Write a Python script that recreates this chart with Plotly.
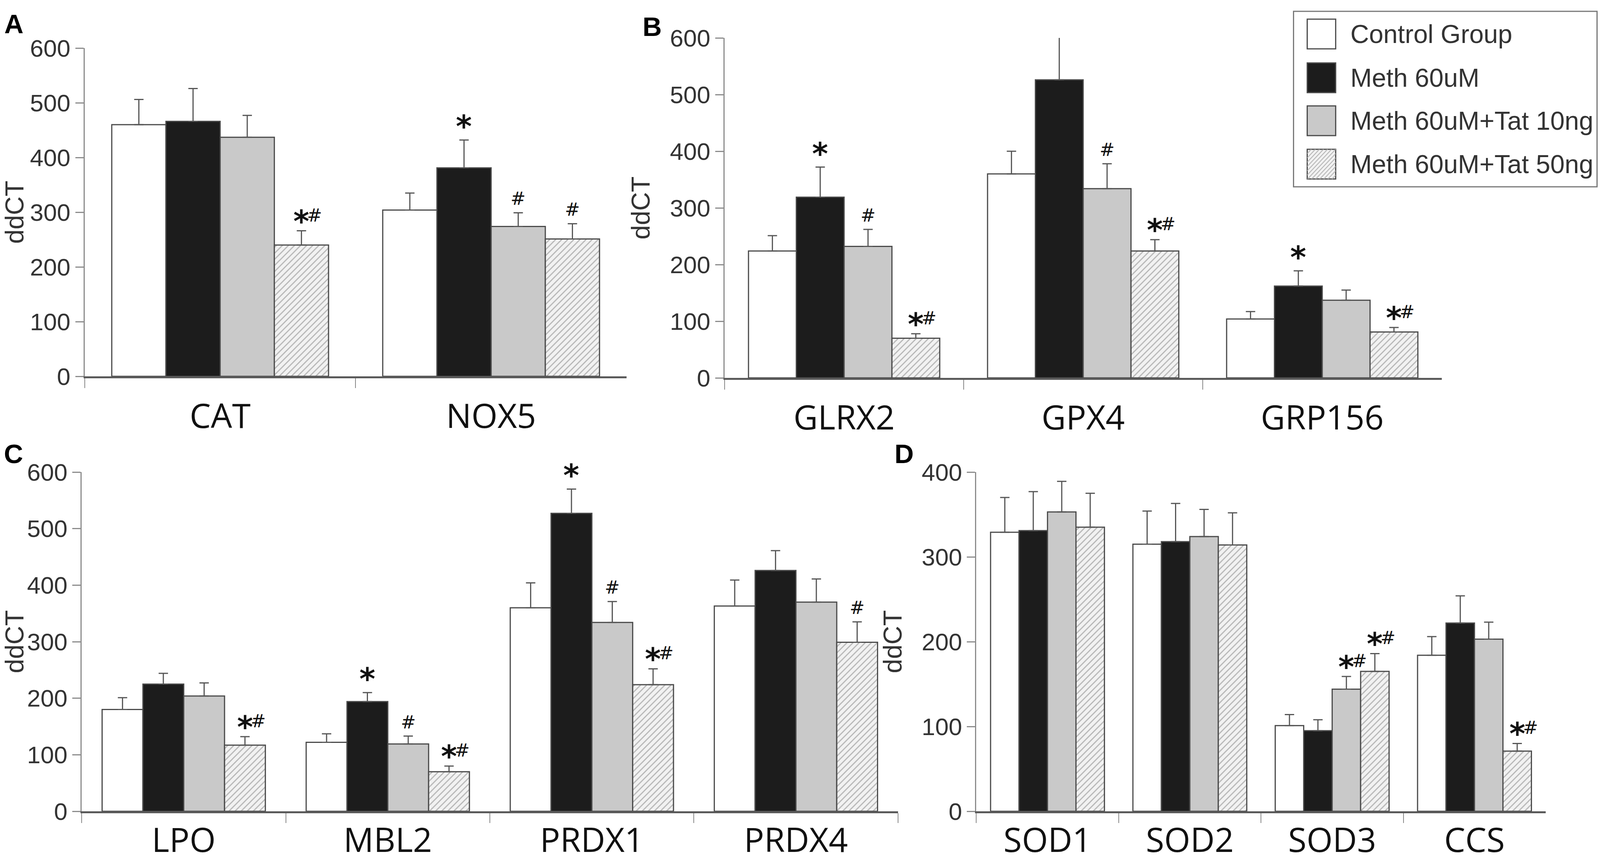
import plotly.graph_objects as go

W, H = 4328, 2216

GROUPS = ["Control Group", "Meth 60uM", "Meth 60uM+Tat 10ng", "Meth 60uM+Tat 50ng"]

# panel A
genes_a = ["CAT", "NOX5"]
means_a = [[460, 466, 437, 240], [304, 381, 274, 251]]
errs_a = [[46, 60, 40, 26], [31, 51, 25, 28]]
marks_a = [["", "", "", "*#"], ["", "*", "#", "#"]]

# panel B
genes_b = ["GLRX2", "GPX4", "GRP156"]
means_b = [[224, 319, 232, 70], [360, 526, 334, 224], [104, 162, 137, 81]]
errs_b = [[27, 53, 30, 8], [40, 84, 44, 20], [13, 27, 18, 8]]
marks_b = [["", "*", "#", "*#"], ["", "*", "#", "*#"], ["", "*", "", "*#"]]

# panel C
genes_c = ["LPO", "MBL2", "PRDX1", "PRDX4"]
means_c = [[180, 225, 204, 117], [122, 194, 119, 70], [360, 527, 334, 224], [363, 426, 370, 299]]
errs_c = [[21, 19, 23, 15], [15, 16, 14, 10], [44, 43, 37, 28], [46, 35, 41, 36]]
marks_c = [["", "", "", "*#"], ["", "*", "#", "*#"], ["", "*", "#", "*#"], ["", "", "", "#"]]

# panel D
genes_d = ["SOD1", "SOD2", "SOD3", "CCS"]
means_d = [[329, 331, 353, 335], [315, 318, 324, 314], [101, 95, 144, 165], [184, 222, 203, 71]]
errs_d = [[41, 46, 36, 40], [39, 45, 32, 38], [13, 13, 15, 21], [22, 32, 20, 9]]
marks_d = [["", "", "", ""], ["", "", "", ""], ["", "", "*#", "*#"], ["", "", "", "*#"]]

y_max = {"A": 600, "B": 600, "C": 600, "D": 400}

# pixel boxes of each plot area: x left, x right, y top, y bottom
BOX = {
    "A": (229, 1695, 123, 963),
    "B": (1960, 3900, 97, 967),
    "C": (221, 2429, 1208, 2076),
    "D": (2641, 4181, 1208, 2076),
}
LETTER_XY = {"A": (10, 21), "B": (1736, 28), "C": (8, 1121), "D": (2418, 1121)}
LABEL_STANDOFF = {"A": 24, "B": 24, "C": -4, "D": -4}

FILL = ["#ffffff", "#1c1c1c", "#c9c9c9", "#f2f2f2"]
EDGE = "#4a4a4a"
HATCH = "#b4b4b4"
TXT = "#333333"


def px(x):
    return x / W


def py(y):
    return 1 - y / H


def bar_marker(g):
    m = dict(color=FILL[g], line=dict(color=EDGE, width=3))
    if g == 3:
        m["pattern"] = dict(shape="/", fgcolor=HATCH, bgcolor=FILL[3], size=11, solidity=0.25)
    return m


panels = [
    ("A", genes_a, means_a, errs_a, marks_a),
    ("B", genes_b, means_b, errs_b, marks_b),
    ("C", genes_c, means_c, errs_c, marks_c),
    ("D", genes_d, means_d, errs_d, marks_d),
]

STAR = dict(family="DejaVu Sans", size=78, weight="bold", color="#111")
HASH = dict(family="DejaVu Sans", size=46, color="#111")

fig = go.Figure()
annotations = []
offsets = [-0.3, -0.1, 0.1, 0.3]

for k, (name, genes, means, errs, marks) in enumerate(panels, start=1):
    xa = "x" if k == 1 else f"x{k}"
    ya = "y" if k == 1 else f"y{k}"
    for g in range(4):
        fig.add_trace(go.Bar(
            x=genes, y=[m[g] for m in means],
            error_y=dict(type="data", symmetric=False,
                         array=[e[g] for e in errs], arrayminus=[0] * len(genes),
                         color="#555555", thickness=3, width=12),
            marker=bar_marker(g), name=GROUPS[g], showlegend=False,
            xaxis=xa, yaxis=ya,
        ))
        # significance marks above the error bars
        for i in range(len(genes)):
            t = marks[i][g]
            top = means[i][g] + errs[i][g]
            common = dict(xref=xa, yref=ya, x=i + offsets[g], y=top,
                          showarrow=False, yanchor="middle")
            if t == "*":
                annotations.append(dict(text="*", yshift=34, font=STAR, **common))
            elif t == "#":
                annotations.append(dict(text="#", yshift=36, font=HASH, **common))
            elif t == "*#":
                annotations.append(dict(text="*", yshift=24, font=STAR, **common))
                annotations.append(dict(text="#", yshift=40, xshift=34, font=HASH, **common))

    x0, x1, yt, yb = BOX[name]
    fig.layout[f"xaxis{k if k > 1 else ''}"] = dict(
        domain=[px(x0), px(x1)], anchor=ya, type="category",
        range=[-0.5, len(genes) - 0.5], tickson="boundaries",
        ticks="outside", ticklen=25, tickwidth=2, tickcolor="#888888",
        showline=True, linecolor="#5a5a5a", linewidth=5,
        showgrid=False, zeroline=False, fixedrange=True,
        ticklabelstandoff=LABEL_STANDOFF[name],
        tickfont=dict(family="Open Sans", size=86, color="#111111"),
    )
    fig.layout[f"yaxis{k if k > 1 else ''}"] = dict(
        domain=[py(yb), py(yt)], anchor=xa,
        range=[0, y_max[name]], dtick=100,
        ticks="outside", ticklen=21, tickwidth=3, tickcolor="#8c8c8c",
        showline=True, linecolor="#8c8c8c", linewidth=3,
        showgrid=False, zeroline=False, fixedrange=True,
        ticklabelstandoff=0,
        tickfont=dict(family="Liberation Sans", size=62, color=TXT),
        title=dict(text="ddCT", standoff=30, font=dict(family="Liberation Sans", size=66, color=TXT)),
    )
    lx, ly = LETTER_XY[name]
    annotations.append(dict(text=f"<b>{name}</b>", xref="paper", yref="paper",
                            x=px(lx), y=py(ly), xanchor="left", yanchor="top",
                            showarrow=False, font=dict(family="Liberation Sans", size=68, color="#000")))

# legend drawn by hand so the swatches can match the large boxes of the figure
shapes = [dict(type="rect", xref="paper", yref="paper",
               x0=px(3499), x1=px(4320), y0=py(478), y1=py(29),
               line=dict(color="#777777", width=3), fillcolor="white")]
row_y = [87, 199, 309, 420]
sx0, sx1, half = 3536, 3613, 38
for g, cy in enumerate(row_y):
    shapes.append(dict(type="rect", xref="paper", yref="paper",
                       x0=px(sx0), x1=px(sx1), y0=py(cy + half), y1=py(cy - half),
                       line=dict(color=EDGE, width=3), fillcolor=FILL[g], layer="above"))
    if g == 3:
        segs = []
        top, bot = cy - half, cy + half
        s = sx0 + top
        while s <= sx1 + bot:
            xa_ = max(sx0, s - bot)
            xb_ = min(sx1, s - top)
            if xb_ > xa_:
                segs.append(f"M{px(xa_):.5f},{py(s - xa_):.5f}L{px(xb_):.5f},{py(s - xb_):.5f}")
            s += 11
        shapes.append(dict(type="path", xref="paper", yref="paper", path="".join(segs),
                           line=dict(color=HATCH, width=2), layer="above"))
    annotations.append(dict(text=GROUPS[g], xref="paper", yref="paper",
                            x=px(3651), y=py(cy), xanchor="left", yanchor="middle",
                            showarrow=False, font=dict(family="Liberation Sans", size=66, color=TXT)))

fig.update_layout(
    autosize=True, template="none",
    margin=dict(l=0, r=0, t=0, b=0),
    paper_bgcolor="white", plot_bgcolor="white",
    barmode="group", bargap=0.2, bargroupgap=0,
    showlegend=False,
    annotations=annotations, shapes=shapes,
)

# fill the browser window exactly, whatever its css size
fig.write_html("out.html", default_width="100vw", default_height="100vh",
               config={"displayModeBar": False},
               post_script="document.body.style.margin='0';")
